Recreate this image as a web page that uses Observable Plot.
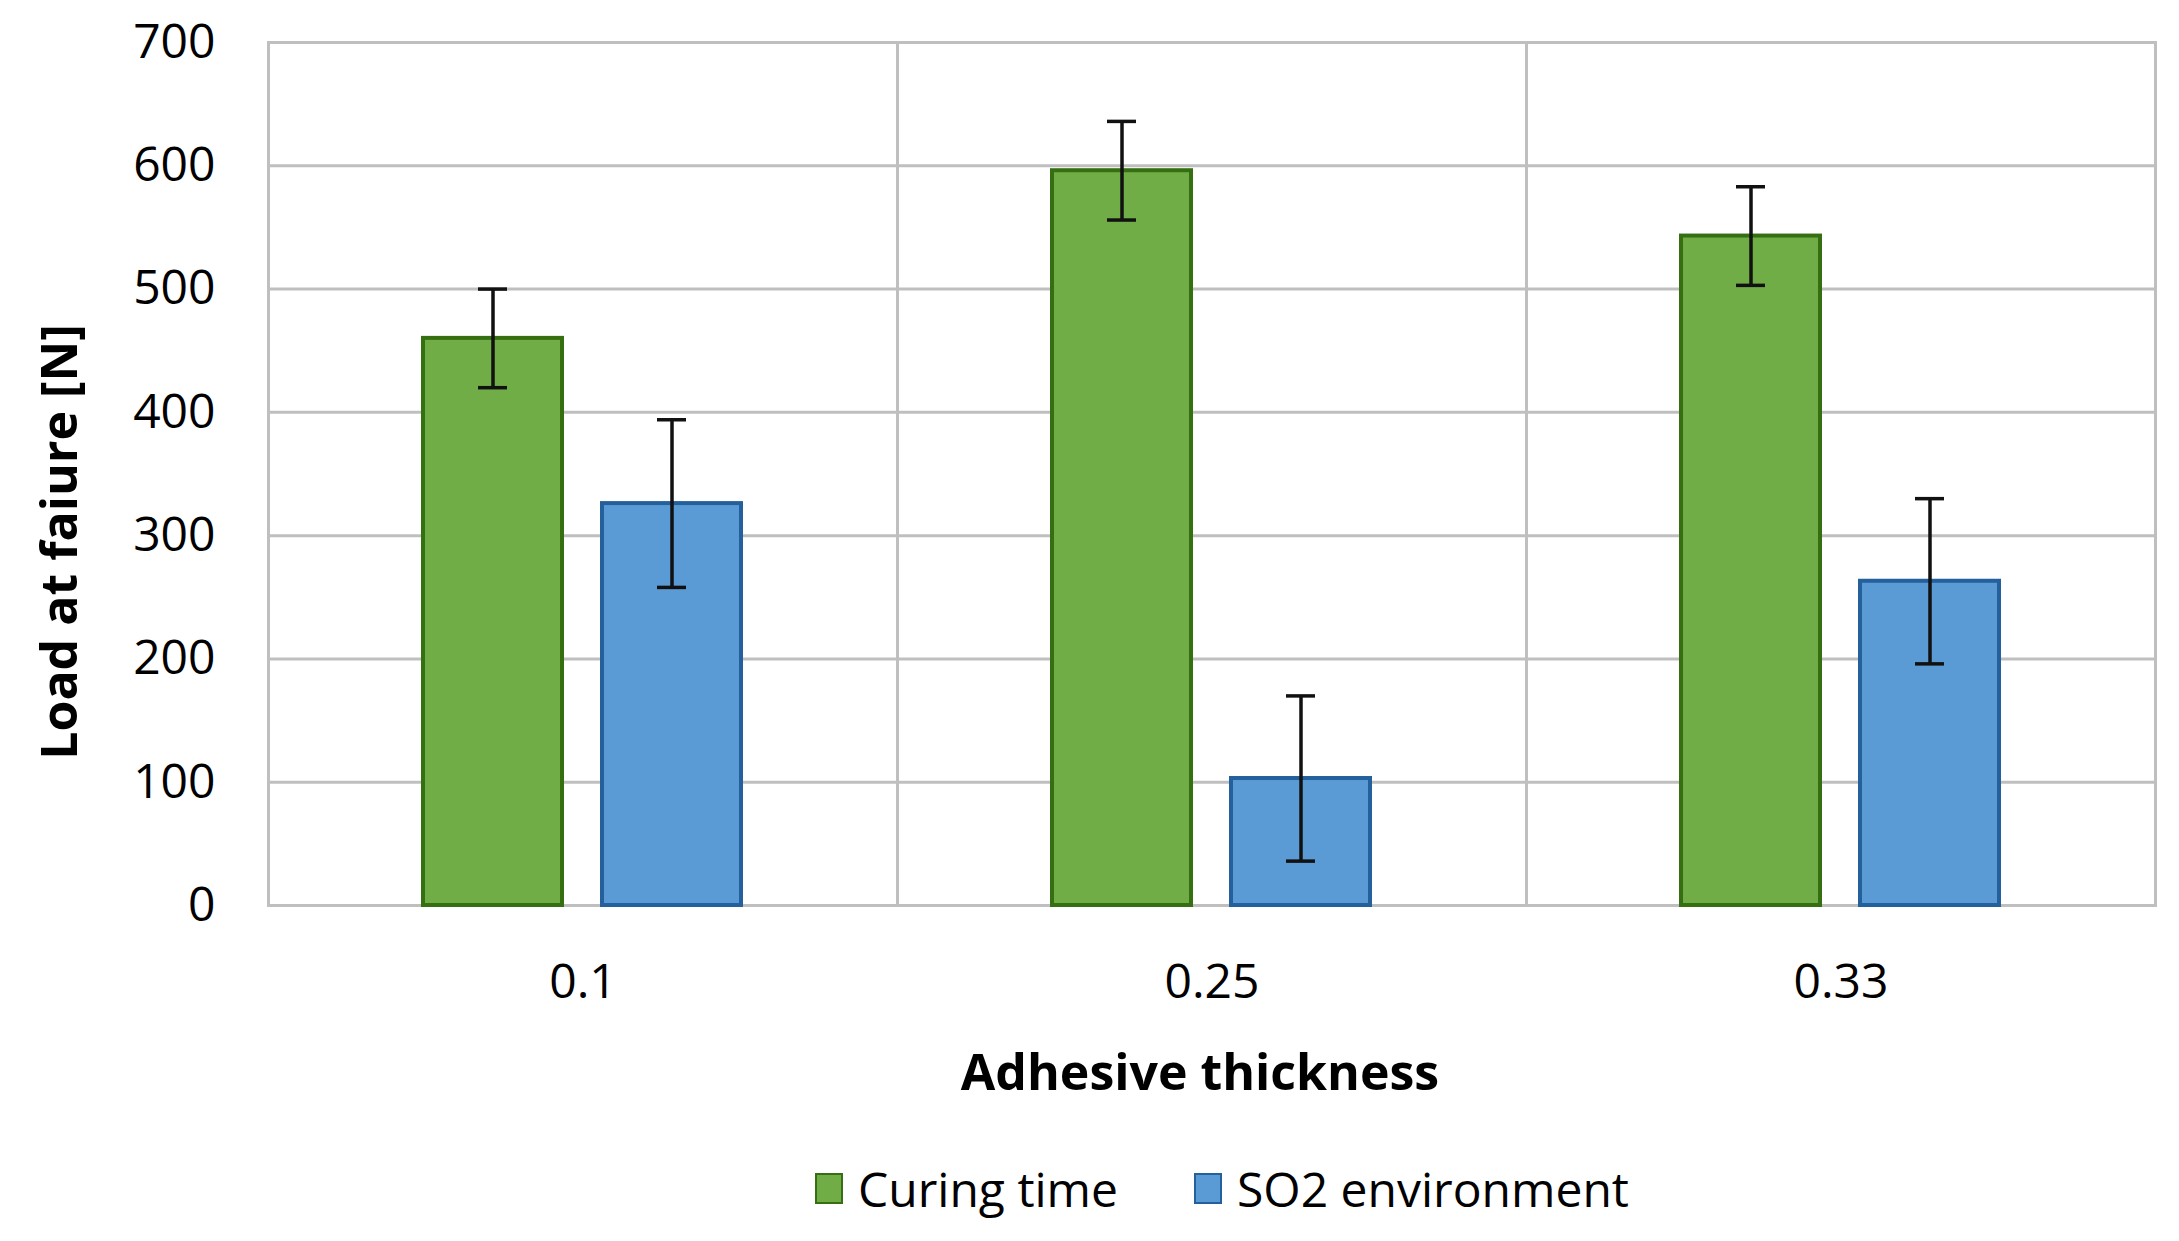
<!DOCTYPE html>
<html>
<head>
<meta charset="utf-8">
<script src="https://cdn.jsdelivr.net/npm/d3@7"></script>
<script src="https://cdn.jsdelivr.net/npm/@observablehq/plot@0.6"></script>
<style>
  html, body { margin: 0; padding: 0; background: #fff; }
  #wrap { position: relative; width: 2179px; height: 1241px; font-family: "Open Sans", sans-serif; }
  #legend { position: absolute; left: 815px; top: 1158px; height: 60px; display: flex; align-items: center; font-size: 48px; color: #000; }
  .item { display: flex; align-items: center; margin-right: 76px; }
  .sw { width: 24px; height: 27px; border: 2px solid; margin-right: 15px; }
</style>
</head>
<body>
<div id="wrap"><div id="chart"></div><div id="legend"></div></div>
<script>
const thickness = ["0.1", "0.25", "0.33"];
const series = ["Curing time", "SO2 environment"];
const curing = [460, 596, 543];
const curingErr = [40, 40, 40];
const so2 = [326, 103, 263];
const so2Err = [68, 67, 67];
const yTicks = [0, 100, 200, 300, 400, 500, 600, 700];
const fills = ["#70ad47", "#5b9bd5"];
const strokes = ["#356f12", "#24609c"];

const rows = [];
thickness.forEach((t, i) => {
  rows.push({t, s: series[0], v: curing[i], e: curingErr[i]});
  rows.push({t, s: series[1], v: so2[i], e: so2Err[i]});
});

const chart = Plot.plot({
  width: 2179,
  height: 1110,
  marginLeft: 267,
  marginRight: 24,
  marginTop: 42,
  marginBottom: 205,
  style: {fontFamily: "Open Sans", fontSize: "48px", color: "#000", background: "#fff"},
  fx: {domain: thickness, padding: 0},
  x: {domain: series, axis: null, paddingInner: 0.222, paddingOuter: 0.867},
  y: {domain: [0, 700]},
  color: {domain: series, range: fills},
  marks: [
    Plot.gridY(yTicks, {stroke: "#bfbfbf", strokeOpacity: 1, strokeWidth: 3}),
    Plot.frame({stroke: "#bfbfbf", strokeWidth: 3}),
    Plot.barY(rows, {fx: "t", x: "s", y: "v", fill: "s", stroke: d => strokes[series.indexOf(d.s)], strokeWidth: 4}),
    Plot.ruleX(rows, {fx: "t", x: "s", y1: d => d.v - d.e, y2: d => d.v + d.e, stroke: "#111", strokeWidth: 3.5}),
    Plot.tickY(rows, {fx: "t", x: "s", y: d => d.v + d.e, stroke: "#111", strokeWidth: 3.5, insetLeft: 55, insetRight: 55}),
    Plot.tickY(rows, {fx: "t", x: "s", y: d => d.v - d.e, stroke: "#111", strokeWidth: 3.5, insetLeft: 55, insetRight: 55}),
    Plot.axisY(yTicks, {tickSize: 0, tickPadding: 53, label: null, fontSize: 48}),
    Plot.axisFx({anchor: "bottom", tickSize: 0, tickPadding: 58, label: null, fontSize: 48}),
    Plot.text([{fx: thickness[0], txt: "Load at faiure [N]"}], {fx: "fx", text: "txt", frameAnchor: "left", textAnchor: "middle", lineAnchor: "middle", rotate: -90, dx: -208, dy: 68, fontSize: 50, fontWeight: "bold", fill: "#000"}),
    Plot.text([{fx: thickness[1], txt: "Adhesive thickness"}], {fx: "fx", text: "txt", frameAnchor: "bottom", textAnchor: "middle", lineAnchor: "middle", dx: -12, dy: 168, fontSize: 50, fontWeight: "bold", fill: "#000"})
  ]
});
document.getElementById("chart").appendChild(chart);

const legend = document.getElementById("legend");
series.forEach((s, i) => {
  const item = document.createElement("div");
  item.className = "item";
  const sw = document.createElement("div");
  sw.className = "sw";
  sw.style.background = fills[i];
  sw.style.borderColor = strokes[i];
  const lab = document.createElement("span");
  lab.textContent = s;
  item.appendChild(sw);
  item.appendChild(lab);
  legend.appendChild(item);
});
</script>
</body>
</html>
